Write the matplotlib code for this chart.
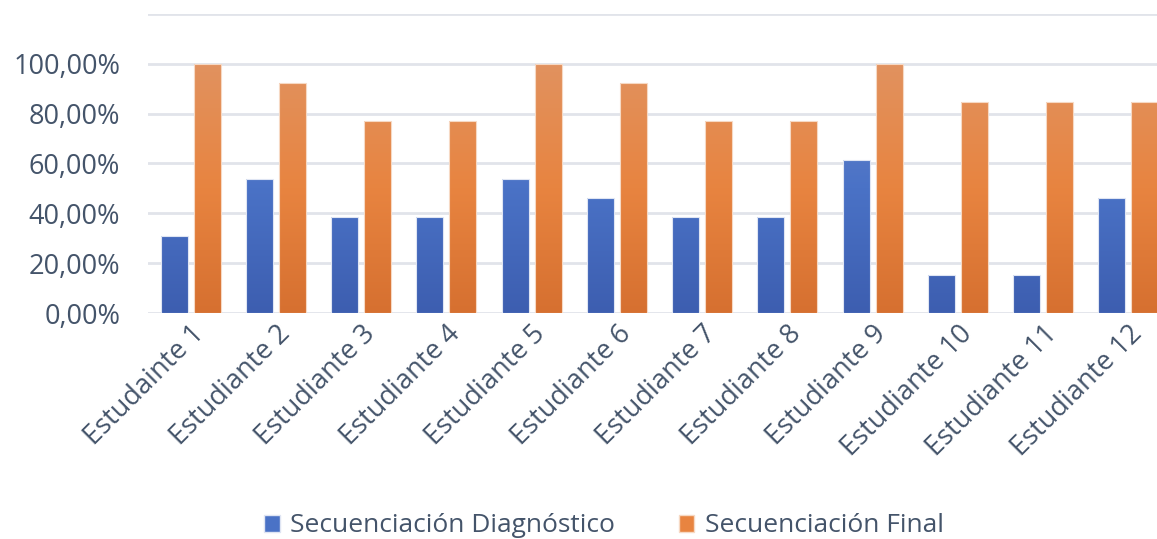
import matplotlib.pyplot as plt
import numpy as np
from matplotlib.colors import LinearSegmentedColormap
from matplotlib.patches import Patch
from matplotlib.ticker import FuncFormatter

estudiantes = ["Estudainte 1", "Estudiante 2", "Estudiante 3", "Estudiante 4",
               "Estudiante 5", "Estudiante 6", "Estudiante 7", "Estudiante 8",
               "Estudiante 9", "Estudiante 10", "Estudiante 11", "Estudiante 12"]
diagnostico = [0.3077, 0.5385, 0.3846, 0.3846, 0.5385, 0.4615,
               0.3846, 0.3846, 0.6154, 0.1538, 0.1538, 0.4615]
final = [1.0, 0.9231, 0.7692, 0.7692, 1.0, 0.9231,
         0.7692, 0.7692, 1.0, 0.8462, 0.8462, 0.8462]

plt.rcParams['font.family'] = ['Open Sans', 'DejaVu Sans']
text_color = '#44546a'

fig = plt.figure(figsize=(11.57, 5.39), dpi=100)
ax = fig.add_axes([148 / 1157, 1 - 313 / 539, 1023 / 1157, 299 / 539])

blue_cmap = LinearSegmentedColormap.from_list('b', ['#3d5eb0', '#4a72c6', '#6b86c8'])
orange_cmap = LinearSegmentedColormap.from_list('o', ['#d67030', '#e88440', '#e1925f'])
grad = np.linspace(0, 1, 256).reshape(-1, 1)

x = np.arange(len(estudiantes))
w = 0.316
off = 0.193
bars1 = ax.bar(x - off, diagnostico, w, color='none', edgecolor='#dfe5f3', linewidth=0.8, zorder=3)
bars2 = ax.bar(x + off, final, w, color='none', edgecolor='#f6d9c4', linewidth=0.8, zorder=3)

for bars, cmap in [(bars1, blue_cmap), (bars2, orange_cmap)]:
    for b in bars:
        x0 = b.get_x()
        im = ax.imshow(grad, cmap=cmap, origin='lower', aspect='auto',
                       extent=[x0, x0 + b.get_width(), 0, 1.0], zorder=2)
        im.set_clip_path(b)

ax.set_xlim(-0.5, len(estudiantes) - 0.5)
ax.set_ylim(0, 1.2)
ax.set_yticks(np.arange(0, 1.21, 0.2))
ax.yaxis.set_major_formatter(FuncFormatter(
    lambda v, p: '' if v > 1.05 else f"{v * 100:.2f}%".replace('.', ',')))
ax.grid(axis='y', color='#e1e4ea', linewidth=2, zorder=0)
for s in ax.spines.values():
    s.set_visible(False)
ax.tick_params(axis='both', length=0, labelsize=19.5, colors=text_color)
ax.tick_params(axis='y', pad=20)
ax.tick_params(axis='x', pad=5)
ax.set_xticks(x)
ax.set_xticklabels(estudiantes, rotation=45, ha='right', rotation_mode='anchor')

handles = [Patch(facecolor='#4a72c6', edgecolor='#dfe5f3', label='Secuenciación Diagnóstico'),
           Patch(facecolor='#e88440', edgecolor='#f6d9c4', label='Secuenciación Final')]
fig.legend(handles=handles, loc='center', bbox_to_anchor=(0.522, 1 - 526 / 539), ncol=2,
           frameon=False, fontsize=19, labelcolor=text_color, handlelength=0.6,
           handleheight=0.6, handletextpad=0.4, columnspacing=2.4)

fig.savefig('out.png', dpi=100)
